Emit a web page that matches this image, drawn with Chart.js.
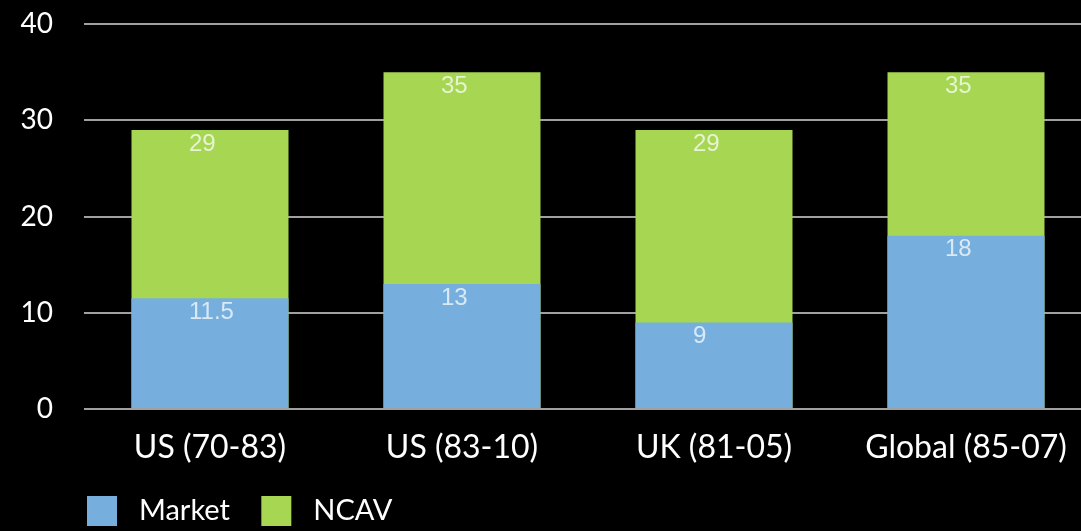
<!DOCTYPE html>
<html>
<head>
<meta charset="utf-8">
<script src="https://cdn.jsdelivr.net/npm/chart.js@4"></script>
<style>
  html, body { margin: 0; padding: 0; background: #000; overflow: hidden; }
  #wrap { width: 1100px; height: 531px; position: relative; }
</style>
</head>
<body>
<div id="wrap"><canvas id="chart"></canvas></div>
<script>
// Annual returns (%) for net-current-asset-value stocks vs. the market
const categories = ['US (70-83)', 'US (83-10)', 'UK (81-05)', 'Global (85-07)'];
const marketReturns = [11.5, 13, 9, 18];
const ncavReturns = [29, 35, 29, 35];
const yTicks = [0, 10, 20, 30, 40];

const GREEN = 'rgb(166,214,82)';
const BLUE = 'rgb(118,175,222)';
const FONT = 'Lato, "Open Sans", sans-serif';
const LEGEND_GAP = 24;

// Value labels written just inside the top of each bar
const barValueLabels = {
  id: 'barValueLabels',
  afterDatasetsDraw(chart) {
    const ctx = chart.ctx;
    ctx.save();
    ctx.font = '24px "Liberation Sans", Arial, sans-serif';
    ctx.fillStyle = 'rgba(255,255,255,0.72)';
    ctx.textAlign = 'left';
    ctx.textBaseline = 'middle';
    chart.data.datasets.forEach((ds, di) => {
      const meta = chart.getDatasetMeta(di);
      meta.data.forEach((bar, i) => {
        ctx.fillText(String(ds.data[i]), bar.x - 21, bar.y + 14);
      });
    });
    ctx.restore();
  }
};

// Line the legend row up under the plot's left edge
const legendPlacement = {
  id: 'legendPlacement',
  afterLayout(chart) {
    const lg = chart.legend;
    if (!lg) return;
    const dx = (chart.chartArea.left + 3 - LEGEND_GAP) - lg.left;
    lg.left += dx; lg.right += dx;
    lg.top += 5; lg.bottom += 5;
  }
};

new Chart(document.getElementById('chart'), {
  type: 'bar',
  data: {
    labels: categories,
    datasets: [
      { label: 'Market', data: marketReturns, backgroundColor: BLUE, grouped: false },
      { label: 'NCAV', data: ncavReturns, backgroundColor: GREEN, grouped: false }
    ]
  },
  options: {
    responsive: true,
    maintainAspectRatio: false,
    animation: false,
    devicePixelRatio: 1,
    categoryPercentage: 1,
    barPercentage: 0.623,
    layout: { padding: { left: 0, right: 8, top: 24, bottom: 0 } },
    plugins: {
      tooltip: { enabled: false },
      legend: {
        position: 'bottom',
        align: 'start',
        labels: {
          color: '#ffffff',
          boxWidth: 30,
          boxHeight: 30,
          padding: LEGEND_GAP,
          font: { family: FONT, size: 29 },
          generateLabels(chart) {
            return chart.data.datasets.map((ds, i) => ({
              text: ' ' + ds.label + ' ',
              fillStyle: ds.backgroundColor,
              strokeStyle: ds.backgroundColor,
              lineWidth: 0,
              fontColor: '#ffffff',
              hidden: false,
              datasetIndex: i
            }));
          }
        }
      }
    },
    scales: {
      x: {
        grid: { display: false, drawTicks: false },
        border: { display: false },
        ticks: {
          color: '#ffffff',
          padding: 23,
          maxRotation: 0,
          autoSkip: false,
          font: { family: FONT, size: 32, lineHeight: 1 }
        },
        afterFit(scale) { scale.height = 58; }
      },
      y: {
        min: 0,
        max: 40,
        afterBuildTicks(scale) { scale.ticks = yTicks.map(v => ({ value: v })); },
        grid: { color: '#a0a0a0', lineWidth: 2, drawTicks: true, tickLength: 26, tickColor: 'rgba(0,0,0,0)' },
        border: { display: false },
        ticks: {
          color: '#ffffff',
          padding: 5,
          font: { family: FONT, size: 28 }
        },
        afterFit(scale) { scale.width = 84; }
      }
    }
  },
  plugins: [barValueLabels, legendPlacement]
});
</script>
</body>
</html>
